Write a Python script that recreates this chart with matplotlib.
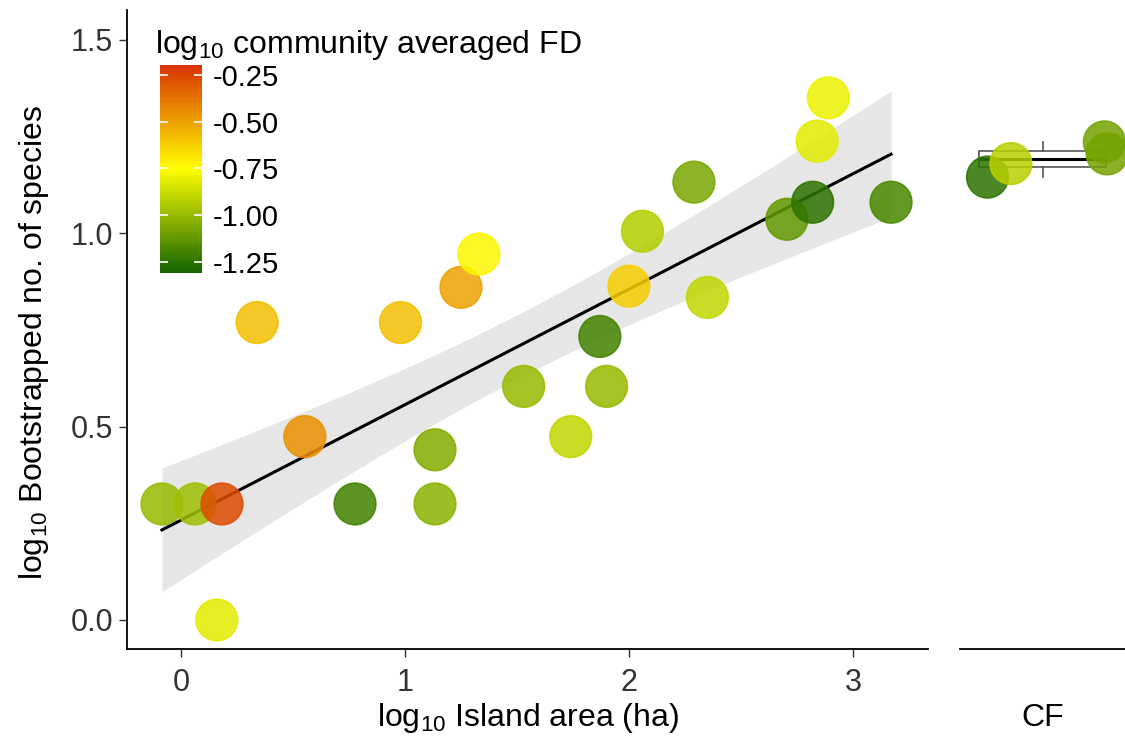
import numpy as np
import matplotlib
matplotlib.use("Agg")
import matplotlib.pyplot as plt
from matplotlib.colors import LinearSegmentedColormap, Normalize

plt.rcParams["font.family"] = ["Liberation Sans", "DejaVu Sans"]
plt.rcParams["mathtext.default"] = "regular"
plt.rcParams["axes.unicode_minus"] = False

# island communities: log10 area, log10 bootstrapped richness, log10 FD
island_area = [-0.085, 0.063, 0.183, 0.16, 0.34, 0.553, 0.777, 0.98, 1.134, 1.134,
               1.25, 1.33, 1.53, 1.74, 1.87, 1.90, 2.0, 2.06, 2.29, 2.35,
               2.705, 2.82, 2.84, 2.89, 3.17]
island_rich = [0.30, 0.30, 0.30, 0.0, 0.769, 0.474, 0.30, 0.769, 0.44, 0.30,
               0.86, 0.946, 0.604, 0.474, 0.733, 0.604, 0.863, 1.005, 1.132, 0.834,
               1.036, 1.08, 1.238, 1.35, 1.08]
island_fd = [-1.0, -0.98, -0.27, -0.82, -0.58, -0.45, -1.2, -0.58, -1.05, -1.03,
             -0.5, -0.73, -1.0, -0.9, -1.2, -1.0, -0.62, -0.93, -1.07, -0.9,
             -1.12, -1.25, -0.82, -0.8, -1.18]

# continuous forest plots
cf_jitter = [-0.40, -0.23, 0.45, 0.47]
cf_rich = [1.145, 1.18, 1.236, 1.205]
cf_fd = [-1.25, -0.92, -1.08, -1.08]

fd_ticks = [-0.25, -0.50, -0.75, -1.00, -1.25]
fd_lim = (-1.31, -0.197)

cmap = LinearSegmentedColormap.from_list("fd", ["#146400", "#ffff00", "#d83200"])
norm = Normalize(*fd_lim)

fig = plt.figure(figsize=(11.25, 7.43), dpi=100)
ax = fig.add_axes([127 / 1125, 94 / 743, 801 / 1125, 639 / 743])
ax_cf = fig.add_axes([960 / 1125, 94 / 743, 165 / 1125, 639 / 743])

# linear fit with 95% confidence band
x = np.array(island_area)
y = np.array(island_rich)
n = len(x)
slope, intercept = np.polyfit(x, y, 1)
xs = np.linspace(x.min(), x.max(), 200)
fit = intercept + slope * xs
resid = y - (intercept + slope * x)
s = np.sqrt(np.sum(resid ** 2) / (n - 2))
se = s * np.sqrt(1 / n + (xs - x.mean()) ** 2 / np.sum((x - x.mean()) ** 2))
t = 2.069  # t(0.975, 23)
ax.fill_between(xs, fit - t * se, fit + t * se, color="#e6e6e6", lw=0, zorder=1)
ax.plot(xs, fit, color="black", lw=2.2, zorder=2)

sc = ax.scatter(island_area, island_rich, c=island_fd, cmap=cmap, norm=norm,
                s=900, alpha=0.85, linewidths=1.2, zorder=3)
sc.set_edgecolors(cmap(norm(np.array(island_fd))))

ax.set_xlim(-0.241, 3.335)
ax.set_ylim(-0.075, 1.577)
ax.set_xticks([0, 1, 2, 3])
ax.set_yticks([0.0, 0.5, 1.0, 1.5])
ax.set_yticklabels(["0.0", "0.5", "1.0", "1.5"])
ax.tick_params(labelsize=22, length=6, width=1, color="#333333", labelcolor="#333333")
ax.tick_params(axis="x", pad=8)
ax.tick_params(axis="y", pad=4)
for side in ["top", "right"]:
    ax.spines[side].set_visible(False)
for side in ["left", "bottom"]:
    ax.spines[side].set_linewidth(1.3)
ax.set_xlabel("log$_{10}$ Island area (ha)", fontsize=23, labelpad=2)
ax.set_ylabel("log$_{10}$ Bootstrapped no. of species", fontsize=23, va="center")
ax.yaxis.set_label_coords(-0.116, 0.48)

# continuous forest panel
ax_cf.boxplot(cf_rich, positions=[0], widths=0.92, showfliers=False,
              patch_artist=True,
              boxprops=dict(facecolor="white", edgecolor="#555555", lw=1.2),
              medianprops=dict(color="black", lw=2.2),
              whiskerprops=dict(color="#555555", lw=1.2),
              capprops=dict(lw=0), zorder=2)
cf = ax_cf.scatter(cf_jitter, cf_rich, c=cf_fd, cmap=cmap, norm=norm,
                   s=900, alpha=0.85, linewidths=1.2, zorder=3)
cf.set_edgecolors(cmap(norm(np.array(cf_fd))))
ax_cf.set_xlim(-0.6, 0.6)
ax_cf.set_ylim(ax.get_ylim())
ax_cf.set_xticks([])
ax_cf.set_yticks([])
for side in ["top", "right", "left"]:
    ax_cf.spines[side].set_visible(False)
ax_cf.spines["bottom"].set_linewidth(1.3)
ax_cf.set_xlabel("CF", fontsize=23, va="center")
ax_cf.xaxis.set_label_coords(0.5, -0.108)
ax_cf.patch.set_alpha(0)

# colour bar tucked into the upper left corner
cax = fig.add_axes([160 / 1125, 470 / 743, 42 / 1125, 208 / 743])
cb = fig.colorbar(sc, cax=cax, ticks=fd_ticks)
cb.solids.set_alpha(1)
cb.outline.set_visible(False)
cb.ax.set_yticklabels([f"{v:.2f}" for v in fd_ticks])
cb.ax.tick_params(direction="in", color="white", length=6, width=1.2,
                  left=True, right=True, labelsize=21, pad=8)
fig.text(155 / 1125, 1 - 45 / 743, "log$_{10}$ community averaged FD",
         fontsize=23, ha="left", va="center")

fig.savefig("out.png", dpi=100)
